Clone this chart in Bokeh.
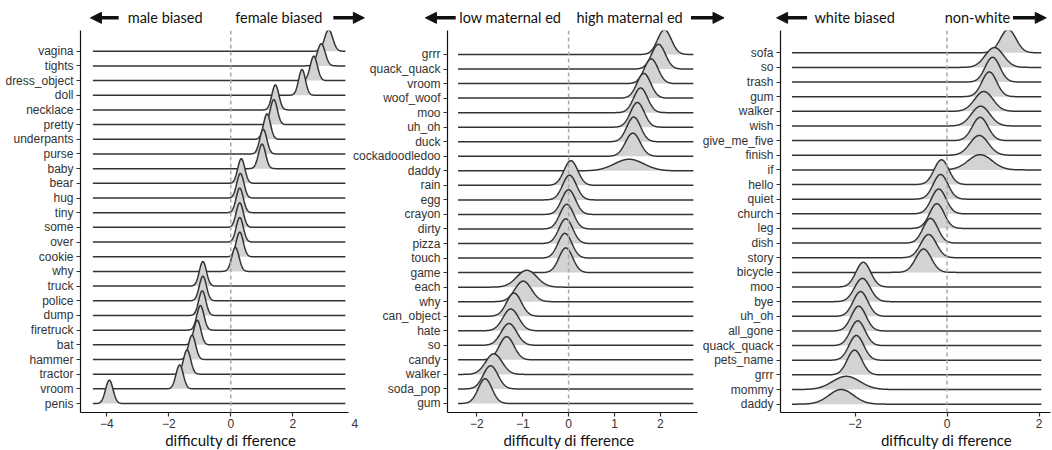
import numpy as np
from bokeh.plotting import figure
from bokeh.layouts import row, column
from bokeh.models import Span, Label, Arrow, NormalHead, FixedTicker, Range1d
from bokeh.embed import file_html
from bokeh.resources import INLINE

# ---------------- data ----------------
gender_words = ["vagina", "tights", "dress_object", "doll", "necklace", "pretty", "underpants",
                "purse", "baby", "bear", "hug", "tiny", "some", "over", "cookie", "why", "truck",
                "police", "dump", "firetruck", "bat", "hammer", "tractor", "vroom", "penis"]
gender_mean = [3.16, 2.92, 2.68, 2.30, 1.44, 1.39, 1.17, 1.05, 1.01, 0.34, 0.31, 0.29, 0.29,
               0.29, 0.29, 0.15, -0.90, -0.90, -0.92, -0.98, -1.08, -1.25, -1.41, -1.65, -3.92]
gender_sd = [0.132, 0.128, 0.116, 0.110, 0.113, 0.113, 0.111, 0.115, 0.115, 0.115, 0.115, 0.115,
             0.115, 0.115, 0.115, 0.118, 0.115, 0.115, 0.115, 0.115, 0.115, 0.116, 0.116, 0.118, 0.121]
gender_span = [-4.45, 3.70]

momed_words = ["grrr", "quack_quack", "vroom", "woof_woof", "moo", "uh_oh", "duck",
               "cockadoodledoo", "daddy", "rain", "egg", "crayon", "dirty", "pizza", "touch",
               "game", "each", "why", "can_object", "hate", "so", "candy", "walker", "soda_pop", "gum"]
momed_mean = [2.09, 1.96, 1.80, 1.64, 1.57, 1.50, 1.42, 1.40, 1.32, 0.05, 0.02, 0.00, -0.04,
              -0.06, -0.08, -0.06, -0.91, -0.99, -1.19, -1.26, -1.30, -1.35, -1.63, -1.70, -1.82]
momed_sd = [0.15, 0.15, 0.15, 0.15, 0.15, 0.15, 0.15, 0.16, 0.32, 0.15, 0.15, 0.15, 0.15,
            0.15, 0.15, 0.15, 0.22, 0.18, 0.16, 0.17, 0.17, 0.16, 0.18, 0.16, 0.15]
momed_span = [-2.41, 2.72]

eth_words = ["sofa", "so", "trash", "gum", "walker", "wish", "give_me_five", "finish", "if",
             "hello", "quiet", "church", "leg", "dish", "story", "bicycle", "moo", "bye", "uh_oh",
             "all_gone", "quack_quack", "pets_name", "grrr", "mommy", "daddy"]
eth_mean = [1.33, 1.03, 0.99, 0.92, 0.80, 0.73, 0.72, 0.70, 0.72, -0.12, -0.14, -0.18, -0.22,
            -0.36, -0.40, -0.51, -1.82, -1.84, -1.88, -1.92, -1.94, -1.97, -2.01, -2.19, -2.30]
eth_sd = [0.17, 0.20, 0.16, 0.16, 0.20, 0.20, 0.17, 0.20, 0.26, 0.16, 0.16, 0.16, 0.16, 0.16,
          0.17, 0.17, 0.16, 0.17, 0.16, 0.16, 0.16, 0.16, 0.16, 0.30, 0.27]
eth_span = [-3.37, 2.05]

gender_ticks = [-4, -2, 0, 2]
gender_extra_tick = 4
momed_ticks = [-2, -1, 0, 1, 2]
eth_ticks = [-2, 0, 2]

gender_header = ["male biased", "female biased"]
momed_header = ["low maternal ed", "high maternal ed"]
eth_header = ["white biased", "non-white"]
x_title = "difficulty di fference"

# ---------------- styling ----------------
FILL = "#d3d3d3"
EDGE = "#333333"
AX_FONT = "Liberation Sans"
HEAD_FONT = "Lato"
INK = "#111111"


def minus(v):
    return ("\u2212" + str(abs(v))) if v < 0 else str(v)


def strip(width, height, xr):
    s = figure(width=width, height=height, x_range=Range1d(*xr), y_range=Range1d(0, 1),
               x_axis_type=None, y_axis_type=None, output_backend="svg", toolbar_location=None,
               min_border=0, background_fill_color=None, border_fill_color=None,
               outline_line_color=None)
    s.xgrid.visible = False
    s.ygrid.visible = False
    return s


def panel(words, means, sds, span, scale, xr, yr, ticks, width, bl, br):
    n = len(words)
    p = figure(width=width, height=422, x_range=Range1d(*xr), y_range=Range1d(*yr),
               output_backend="svg", toolbar_location=None,
               min_border_left=bl, min_border_right=br, min_border_top=2, min_border_bottom=38,
               background_fill_color=None, border_fill_color=None, outline_line_color=None)
    p.xgrid.visible = False
    p.ygrid.visible = False
    xs = np.linspace(span[0], span[1], 700)
    for i, (m, s) in enumerate(zip(means, sds)):
        base = n - 1 - i
        dens = np.exp(-0.5 * ((xs - m) / s) ** 2) / (s * np.sqrt(2 * np.pi))
        top = base + scale * dens
        p.varea(x=xs, y1=np.full_like(xs, base), y2=top, fill_color=FILL)
        p.line(xs, top, line_color=EDGE, line_width=1.5)

    p.add_layout(Span(location=0, dimension="height", line_color="#a8a8a8",
                      line_dash="4 3", line_width=1.5))

    for ax in (p.xaxis[0], p.yaxis[0]):
        ax.axis_line_color = INK
        ax.axis_line_width = 1.2
        ax.major_tick_line_color = "#333333"
        ax.major_tick_line_width = 1.2
        ax.major_tick_out = 4
        ax.major_tick_in = 0
        ax.minor_tick_line_color = None
        ax.major_label_text_font = AX_FONT
        ax.major_label_text_font_size = "12px"
        ax.major_label_text_color = "#333333"
    p.yaxis.ticker = FixedTicker(ticks=list(range(n)))
    p.yaxis.major_label_overrides = {n - 1 - i: w for i, w in enumerate(words)}
    p.yaxis.major_label_standoff = 3
    p.xaxis.ticker = FixedTicker(ticks=ticks)
    p.xaxis.major_label_overrides = {t: minus(t) for t in ticks}
    p.xaxis.major_label_standoff = 2
    return p


def header(width, xr, texts, text_x, arrows):
    h = strip(width, 28, xr)
    hy = 0.38
    for tail, tip in arrows:
        h.add_layout(Arrow(end=NormalHead(size=11, fill_color=INK, line_color=INK, line_width=1),
                           x_start=tail, y_start=hy, x_end=tip, y_end=hy,
                           line_width=3.5, line_color=INK))
    for txt, xc in zip(texts, text_x):
        h.add_layout(Label(x=xc, y=hy, text=txt, text_align="center", text_baseline="middle",
                           text_font=HEAD_FONT, text_font_size="14.5px", text_color=INK))
    return h


def footer(width, xr, extra=None):
    f = strip(width, 36, xr)
    f.add_layout(Label(x=0, y=0.30, text=x_title, text_align="center", text_baseline="middle",
                       text_font=HEAD_FONT, text_font_size="15px", text_color=INK))
    if extra is not None:
        f.add_layout(Label(x=extra, y=0.75, text=minus(extra), text_align="center",
                           text_baseline="middle", text_font=AX_FONT, text_font_size="12px",
                           text_color="#333333"))
    return f


# panel 1: 0..372 px, frame 80..348
p1 = panel(gender_words, gender_mean, gender_sd, gender_span, 0.4825,
           (-4.85, 3.80), (-0.61, 25.41), gender_ticks, 372, 80, 24)
h1 = header(372, (-7.434, 4.574), gender_header, [-2.12, 1.55], [(-3.62, -4.53), (3.31, 4.31)])
f1 = footer(372, (-7.434, 4.574), gender_extra_tick)

# panel 2: 347..728 px, frame 447..697
p2 = panel(momed_words, momed_mean, momed_sd, momed_span, 0.639,
           (-2.64, 2.81), (-0.62, 25.65), momed_ticks, 381, 100, 31)
h2 = header(381, (-4.829, 3.478), momed_header, [-1.28, 1.32], [(-2.47, -3.13), (2.66, 3.38)])
f2 = footer(381, (-4.829, 3.478))

# panel 3: 699..1052 px, frame 779..1050
p3 = panel(eth_words, eth_mean, eth_sd, eth_span, 0.678,
           (-3.62, 2.25), (-0.57, 25.52), eth_ticks, 353, 80, 2)
h3 = header(353, (-5.350, 2.296), eth_header, [-1.99, 0.67], [(-3.02, -3.68), (1.44, 2.16)])
f3 = footer(353, (-5.350, 2.296))

for a, b in ((p2, p3), (h2, h3), (f2, f3)):
    a.margin = (0, 0, 0, -25)
    b.margin = (0, 0, 0, -29)

top_row = row(h1, h2, h3)
mid_row = row(p1, p2, p3)
bot_row = row(f1, f2, f3)
bot_row.margin = (-36, 0, 0, 0)

layout = column(top_row, mid_row, bot_row)
open("out.html", "w").write(file_html(layout, INLINE))
